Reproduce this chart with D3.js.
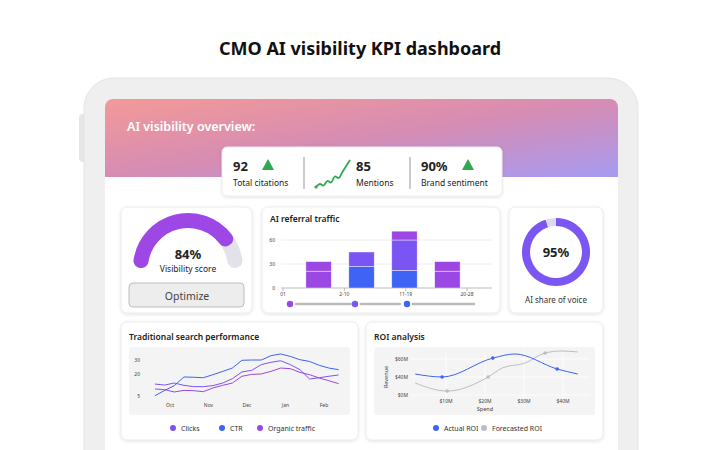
<!DOCTYPE html>
<html><head><meta charset="utf-8">
<script src="https://cdn.jsdelivr.net/npm/d3@7"></script>
<style>body{margin:0;background:#fff}svg{display:block;font-family:"Noto Sans",sans-serif}</style>
</head><body><svg id="c" width="720" height="450"></svg>
<script>
// KPI values
const kpiValues = ["92", "85", "90%"];
const kpiLabels = ["Total citations", "Mentions", "Brand sentiment"];
const mentionsSpark = [2, 4, 3, 6, 5, 9, 8, 12, 16, 20];
const visibilityScore = 84;
const shareOfVoice = 95;

// referral traffic (stacked)
const refCategories = ["2-10", "11-19", "20-28", "x"].slice(0, 0).concat(["b1", "b2", "b3", "b4"]);
const refTickLabels = ["01", "2-10", "11-19", "20-28"];
const refSeries = ["blue", "violet", "purple", "purple2"];
const refValues = [
  {cat: "b1", blue: 0, violet: 0, purple: 21, purple2: 12},
  {cat: "b2", blue: 27, violet: 18, purple: 0, purple2: 0},
  {cat: "b3", blue: 22, violet: 38, purple: 0, purple2: 11},
  {cat: "b4", blue: 0, violet: 0, purple: 21, purple2: 12}
];
const refYTicks = [0, 30, 60];

// traditional search
const searchMonths = ["Oct", "Nov", "Dec", "Jan", "Feb"];
const searchYTicks = [5, 20, 30];
const clicks = [13.3,12.6,14,12.4,11.5,11.5,12.2,14,17,21.7,22.8,26.8,28.4,29.5,26.8,23.3,16.8,17.7,18.7,19.6];
const ctr = [5.2,8.9,12.2,18.2,18,17.7,19.8,22.1,24.4,29.8,30,30,33,34.2,32.5,30.2,29,26.3,24.4,23.3];
const organic = [9.9,9.4,7.8,8.9,8.7,8,10.6,12.4,14,18.7,20,20.3,22.1,24.4,24,21.4,19.8,17.5,15.6,13.6];

// ROI
const roiXTicks = [10, 20, 30, 40];
const roiYTicks = [20, 40, 60];
const roiYLabels = ["$0M", "$40M", "$60M"];
const actualRoi = [[2.1,43.3],[9,40],[22,61],[27.7,65.6],[38.5,48.9],[43.8,43.3]];
const actualDots = [1, 2, 4];
const forecastRoi = [[2.1,33.3],[10.3,24.4],[20.8,40],[24.4,50],[30.3,55.6],[35.4,66.7],[39.7,68.9],[43.8,67.8]];
const forecastDots = [1, 2, 5];

const BLUE = "#3e63f5", VIOLET = "#7a55f3", PURPLE = "#9b47e3", GREEN = "#2fa84f";
const svg = d3.select("#c");
const defs = svg.append("defs");

const hg = defs.append("linearGradient").attr("id", "hdr").attr("x1", 0).attr("y1", 0).attr("x2", 1).attr("y2", 1);
hg.append("stop").attr("offset", 0).attr("stop-color", "#f39a98");
hg.append("stop").attr("offset", 0.5).attr("stop-color", "#d68cb3");
hg.append("stop").attr("offset", 1).attr("stop-color", "#a79bf2");
const sh = defs.append("filter").attr("id", "sh").attr("x", -0.1).attr("y", -0.1).attr("width", 1.2).attr("height", 1.3);
sh.append("feDropShadow").attr("dx", 0).attr("dy", 1).attr("stdDeviation", 1.5).attr("flood-color", "#000").attr("flood-opacity", 0.12);

svg.append("text").attr("x", 360).attr("y", 55).attr("text-anchor", "middle")
  .attr("font-size", 18).attr("font-weight", 700).attr("fill", "#111").text("CMO AI visibility KPI dashboard");

// tablet
svg.append("rect").attr("x", 79).attr("y", 114).attr("width", 10).attr("height", 48).attr("rx", 4).attr("fill", "#e6e6e6");
svg.append("rect").attr("x", 84).attr("y", 78).attr("width", 554).attr("height", 420).attr("rx", 30).attr("fill", "#efefef").attr("stroke", "#e4e4e4");
svg.append("path").attr("d", "M105,450V107a8,8 0 0 1 8,-8H610a8,8 0 0 1 8,8V450Z").attr("fill", "#fff");
svg.append("path").attr("d", "M105,177V107a8,8 0 0 1 8,-8H610a8,8 0 0 1 8,8V177Z").attr("fill", "url(#hdr)");
svg.append("text").attr("x", 127).attr("y", 131).attr("font-size", 12.5).attr("font-weight", 600).attr("fill", "#fff").text("AI visibility overview:");

function card(x, y, w, h, r) {
  svg.append("rect").attr("x", x).attr("y", y).attr("width", w).attr("height", h).attr("rx", r || 6)
    .attr("fill", "#fff").attr("stroke", "#ececec").attr("filter", "url(#sh)");
}
function txt(x, y, s, size, weight, anchor, fill) {
  return svg.append("text").attr("x", x).attr("y", y).attr("font-size", size).attr("font-weight", weight || 400)
    .attr("text-anchor", anchor || "start").attr("fill", fill || "#222").text(s);
}

// KPI card
card(222, 147, 280, 49, 5);
const kx = [233, 356, 421];
kpiValues.forEach((v, i) => {
  txt(kx[i], 171, v, 13, 700);
  txt(kx[i], 186, kpiLabels[i], 8.5, 400);
});
[[262, 0], [462, 2]].forEach(([x]) => {
  svg.append("path").attr("d", `M${x},${170}l6,-11l6,11Z`).attr("fill", GREEN);
});
[304, 410].forEach(x => svg.append("line").attr("x1", x).attr("x2", x).attr("y1", 157).attr("y2", 189).attr("stroke", "#999"));
const spX = d3.scaleLinear().domain([0, mentionsSpark.length - 1]).range([316, 350]);
const spY = d3.scaleLinear().domain([0, 20]).range([190, 160]);
svg.append("path").datum(mentionsSpark).attr("fill", "none").attr("stroke", GREEN).attr("stroke-width", 1.8)
  .attr("d", d3.line().x((d, i) => spX(i)).y(d => spY(d)).curve(d3.curveCatmullRom));
svg.append("circle").attr("cx", spX(0)).attr("cy", spY(mentionsSpark[0])).attr("r", 1.6).attr("fill", GREEN);

// gauge card
card(121, 207, 131, 106);
const gc = [188, 268];
const gArc = d3.arc().innerRadius(40).outerRadius(55).cornerRadius(7);
const gAng = d3.scaleLinear().domain([0, 100]).range([-Math.PI / 2, Math.PI / 2]);
const gg = svg.append("g").attr("transform", `translate(${gc})`);
gg.append("path").attr("d", gArc({startAngle: gAng(0), endAngle: gAng(100)})).attr("fill", "#e3e2ea");
gg.append("path").attr("d", gArc({startAngle: gAng(0), endAngle: gAng(visibilityScore)})).attr("fill", "#9d48e6");
txt(188, 259, visibilityScore + "%", 13, 700, "middle");
txt(188, 272, "Visibility score", 8.5, 400, "middle");
svg.append("rect").attr("x", 129).attr("y", 283).attr("width", 115).attr("height", 24).attr("rx", 4)
  .attr("fill", "#ededed").attr("stroke", "#bdbdbd");
txt(187, 299.5, "Optimize", 10.5, 400, "middle", "#444");

// referral card
card(262, 207, 238, 106);
txt(270, 222, "AI referral traffic", 8.5, 600);
const rx = d3.scaleBand().domain(refValues.map(d => d.cat)).range([301, 465]).paddingInner(0.78).paddingOuter(0.3);
const rxTick = d3.scalePoint().domain(refTickLabels).range([283, 467]);
const ry = d3.scaleLinear().domain([0, 60]).range([288, 240]);
const rg = svg.append("g");
refYTicks.forEach(t => {
  rg.append("line").attr("x1", 281).attr("x2", 492).attr("y1", ry(t)).attr("y2", ry(t)).attr("stroke", t ? "#eee" : "#bbb");
  rg.append("text").attr("x", 275).attr("y", ry(t) + 2).attr("text-anchor", "end").attr("font-size", 5).attr("fill", "#444").text(t);
});
refTickLabels.forEach(t => {
  rg.append("line").attr("x1", rxTick(t)).attr("x2", rxTick(t)).attr("y1", 288).attr("y2", 291).attr("stroke", "#bbb");
  rg.append("text").attr("x", rxTick(t)).attr("y", 296).attr("text-anchor", "middle").attr("font-size", 5).attr("fill", "#444").text(t);
});
const refColors = d3.scaleOrdinal().domain(refSeries).range([BLUE, VIOLET, PURPLE, PURPLE]);
const stack = d3.stack().keys(refSeries)(refValues);
stack.forEach(s => {
  s.forEach(d => {
    if (d[1] - d[0] <= 0) return;
    rg.append("rect").attr("x", rx(d.data.cat) - 8).attr("width", rx.bandwidth() + 16)
      .attr("y", ry(d[1])).attr("height", ry(d[0]) - ry(d[1]))
      .attr("fill", refColors(s.key)).attr("stroke", "#fff").attr("stroke-opacity", 0.6).attr("stroke-width", 0.7);
  });
});
const sliders = [[290, 296, 356, PURPLE], [355, 361, 400, VIOLET], [407, 413, 474, BLUE]];
sliders.forEach(([c, a, b, col]) => {
  rg.append("line").attr("x1", a).attr("x2", b).attr("y1", 304).attr("y2", 304).attr("stroke", "#bbb").attr("stroke-width", 2.5).attr("stroke-linecap", "round");
  rg.append("circle").attr("cx", c).attr("cy", 304).attr("r", 3.2).attr("fill", col);
});

// share of voice
card(509, 207, 94, 106);
const dArc = d3.arc().innerRadius(26).outerRadius(34);
const dAng = d3.scaleLinear().domain([0, 100]).range([0, 2 * Math.PI]);
const dg = svg.append("g").attr("transform", "translate(556,252)");
dg.append("path").attr("d", dArc({startAngle: 0, endAngle: 2 * Math.PI})).attr("fill", "#ddd8f6");
dg.append("path").attr("d", dArc({startAngle: dAng(-shareOfVoice / 2) * 0 - dAng(shareOfVoice) + dAng(shareOfVoice), endAngle: dAng(shareOfVoice)})).attr("fill", "#7b56f2");
txt(556, 257, shareOfVoice + "%", 13, 700, "middle");
txt(556, 303, "AI share of voice", 8, 400, "middle", "#333");

// traditional search
card(121, 322, 237, 118);
txt(129, 340, "Traditional search performance", 8.5, 600);
svg.append("rect").attr("x", 129).attr("y", 347).attr("width", 221).attr("height", 68).attr("rx", 3).attr("fill", "#f4f4f4");
const sx = d3.scaleLinear().domain([0, 4]).range([170, 324]);
const sy = d3.scaleLinear().domain([5, 30]).range([396, 360]);
searchYTicks.forEach(t => txt(140, sy(t) + 2, t, 5, 400, "end", "#444"));
searchMonths.forEach((m, i) => txt(sx(i), 407, m, 5, 400, "middle", "#444"));
const sLine = d3.line().x((d, i) => sx(-0.39 + i * 0.251)).y(d => sy(d));
[[organic, PURPLE], [clicks, VIOLET], [ctr, BLUE]].forEach(([s, col]) => {
  svg.append("path").datum(s).attr("d", sLine).attr("fill", "none").attr("stroke", col).attr("stroke-width", 1);
});
[["Clicks", 173, VIOLET], ["CTR", 222, BLUE], ["Organic traffic", 260, PURPLE]].forEach(([l, x, col]) => {
  svg.append("circle").attr("cx", x).attr("cy", 428).attr("r", 3).attr("fill", col);
  txt(x + 8, 430.5, l, 7, 400, "start", "#333");
});

// ROI
card(366, 322, 237, 118);
txt(374, 340, "ROI analysis", 8.5, 600);
svg.append("rect").attr("x", 374).attr("y", 347).attr("width", 221).attr("height", 68).attr("rx", 3).attr("fill", "#f4f4f4");
const ox = d3.scaleLinear().domain([0, 40]).range([407, 563]);
const oy = d3.scaleLinear().domain([20, 60]).range([395, 359]);
roiXTicks.forEach(t => {
  svg.append("line").attr("x1", ox(t)).attr("x2", ox(t)).attr("y1", 350).attr("y2", 398).attr("stroke", "#fff").attr("stroke-width", 0.8);
  txt(ox(t), 403, "$" + t + "M", 5, 400, "middle", "#444");
});
roiYTicks.forEach((t, i) => {
  svg.append("line").attr("x1", 410).attr("x2", 590).attr("y1", oy(t)).attr("y2", oy(t)).attr("stroke", "#fff").attr("stroke-width", 0.8);
  txt(408, oy(t) + 2, roiYLabels[i], 5, 400, "end", "#444");
});
txt(485, 411, "Spend", 5.5, 400, "middle", "#444");
svg.append("text").attr("transform", "translate(388,377) rotate(-90)").attr("text-anchor", "middle")
  .attr("font-size", 5.5).attr("fill", "#444").text("Revenue");
const oLine = d3.line().x(d => ox(d[0])).y(d => oy(d[1])).curve(d3.curveMonotoneX);
[[forecastRoi, forecastDots, "#bdbdbd"], [actualRoi, actualDots, BLUE]].forEach(([s, dots, col]) => {
  svg.append("path").datum(s).attr("d", oLine).attr("fill", "none").attr("stroke", col).attr("stroke-width", 1);
  dots.forEach(i => svg.append("circle").attr("cx", ox(s[i][0])).attr("cy", oy(s[i][1])).attr("r", 1.8).attr("fill", col));
});
[["Actual ROI", 436, BLUE], ["Forecasted ROI", 484, "#bdbdbd"]].forEach(([l, x, col]) => {
  svg.append("circle").attr("cx", x).attr("cy", 428).attr("r", 3).attr("fill", col);
  txt(x + 8, 430.5, l, 7, 400, "start", "#333");
});
</script></body></html>
